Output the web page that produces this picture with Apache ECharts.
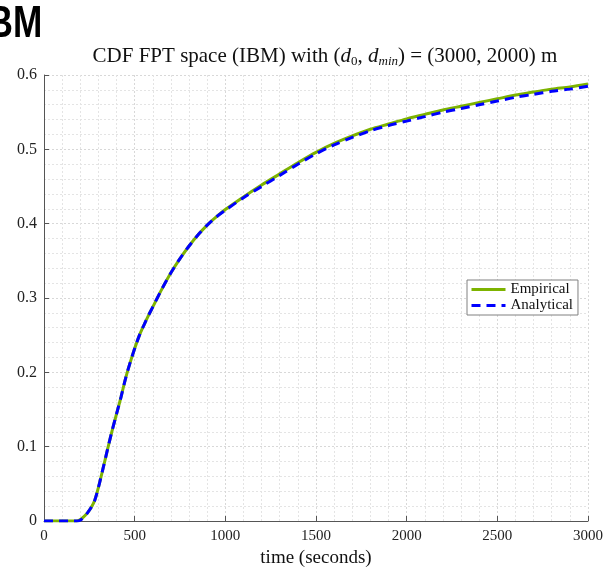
<!DOCTYPE html>
<html><head><meta charset="utf-8">
<script src="https://cdn.jsdelivr.net/npm/echarts@6/dist/echarts.min.js"></script>
<style>html,body{margin:0;padding:0;background:#fff}#c{width:607px;height:569px}</style>
</head><body><div id="c"></div>
<script>
const times = [0,50,100,150,180,200,220,240,260,280,300,325,350,375,400,425,450,475,500,525,550,575,600,650,700,750,800,850,900,950,1000,1100,1200,1300,1400,1500,1600,1700,1800,1900,2000,2100,2200,2300,2400,2500,2600,2700,2800,2900,3000];
const empirical = [0,0,0,0,0,0.002,0.006,0.011,0.018,0.028,0.045,0.07,0.096,0.121,0.144,0.167,0.192,0.213,0.232,0.249,0.263,0.276,0.288,0.312,0.334,0.353,0.37,0.385,0.398,0.409,0.419,0.436,0.452,0.467,0.482,0.496,0.508,0.518,0.527,0.534,0.541,0.547,0.553,0.558,0.563,0.568,0.573,0.577,0.581,0.584,0.588];
const analytical = [0,0,0,0,0,0.001,0.005,0.011,0.018,0.028,0.045,0.07,0.096,0.121,0.144,0.167,0.192,0.213,0.232,0.249,0.263,0.276,0.288,0.312,0.334,0.353,0.37,0.385,0.398,0.409,0.418,0.435,0.450,0.465,0.480,0.494,0.506,0.516,0.525,0.532,0.538,0.544,0.550,0.555,0.560,0.565,0.570,0.574,0.578,0.581,0.585];
const xTickValues = [0,500,1000,1500,2000,2500,3000];
const yTickValues = [0,0.1,0.2,0.3,0.4,0.5,0.6];
const seriesNames = ['Empirical','Analytical'];

const serif = 'Liberation Serif, DejaVu Serif, serif';
const chart = echarts.init(document.getElementById('c'), null, {renderer:'canvas'});
const axisCommon = {
  axisLine:{show:true,lineStyle:{color:'#555',width:1}},
  axisTick:{show:true,inside:true,length:5,lineStyle:{color:'#555'}},
  splitLine:{show:true,lineStyle:{color:'#d8d8d8',type:[2,2],width:1}},
  minorTick:{show:false,splitNumber:5},
  minorSplitLine:{show:true,lineStyle:{color:'#e4e4e4',type:[2,2],width:1}}
};
chart.setOption({
  animation:false,
  backgroundColor:'#fff',
  grid:{left:44,right:19,top:75,bottom:48,containLabel:false,outerBoundsMode:'none'},
  graphic:[
    {type:'text',x:-12.5,y:3,scaleX:0.8,style:{text:'BM',fontFamily:'Liberation Sans, Arial, sans-serif',fontWeight:'bold',fontSize:44,fill:'#000'}},
    {type:'text',x:325,y:56,style:{
      text:'CDF FPT space (IBM) with ({i|d}{s|0}, {i|d}{si|min}) = (3000, 2000) m',
      fontFamily:serif,fontSize:21,fill:'#111',align:'center',verticalAlign:'middle',lineHeight:25,
      rich:{
        i:{fontFamily:serif,fontSize:21,fontStyle:'italic',lineHeight:25,fill:'#111'},
        s:{fontFamily:serif,fontSize:13,lineHeight:13,verticalAlign:'bottom',fill:'#111'},
        si:{fontFamily:serif,fontSize:13,fontStyle:'italic',lineHeight:13,verticalAlign:'bottom',fill:'#111'}
      }}}
  ],
  xAxis:Object.assign({type:'value',min:0,max:3000,interval:500,
    name:'time (seconds)',nameLocation:'middle',nameGap:28,
    nameTextStyle:{fontFamily:serif,fontSize:19,color:'#111'}},axisCommon,
    {axisLabel:{color:'#222',fontFamily:serif,fontSize:15,margin:8,formatter:v=>String(v)}}),
  yAxis:Object.assign({type:'value',min:0,max:0.6,interval:0.1},axisCommon,
    {axisLabel:{color:'#222',fontFamily:serif,fontSize:16,margin:7,formatter:v=>v===0?'0':v.toFixed(1)}}),
  legend:{
    orient:'vertical',left:467,top:280,
    data:seriesNames,
    backgroundColor:'#fff',borderColor:'#808080',borderWidth:1,borderRadius:0,
    padding:[2,5,2,3],itemGap:1,itemWidth:34,itemHeight:16,
    itemStyle:{opacity:0},
    lineStyle:{width:3},
    textStyle:{fontFamily:serif,fontSize:15,color:'#111'}
  },
  series:[
    {name:seriesNames[0],type:'line',data:times.map((t,i)=>[t,empirical[i]]),
     showSymbol:false,symbol:'none',smooth:0.3,
     lineStyle:{color:'#7db300',width:3},itemStyle:{color:'rgba(0,0,0,0)'},z:2},
    {name:seriesNames[1],type:'line',data:times.map((t,i)=>[t,analytical[i]]),
     showSymbol:false,symbol:'none',smooth:0.3,
     lineStyle:{color:'#0000ff',width:3,type:[9,6]},itemStyle:{color:'rgba(0,0,0,0)'},z:3}
  ]
});
</script></body></html>
